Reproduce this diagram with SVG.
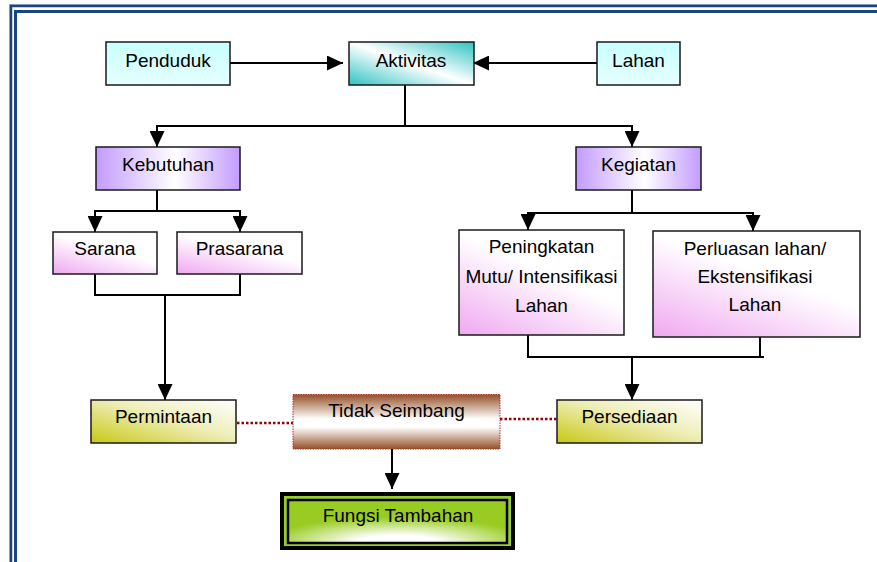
<svg xmlns="http://www.w3.org/2000/svg" width="877" height="562" viewBox="0 0 877 562">
<defs>
<style>
text{font-family:"Liberation Sans",Arial,sans-serif;font-size:19px;fill:#000;text-anchor:middle}
.box{stroke:#1a1a1a;stroke-width:1.5}
.ln{fill:none;stroke:#000;stroke-width:2}
.dot{fill:none;stroke:#990000;stroke-width:2.5;stroke-dasharray:2.5 2}
</style>
<linearGradient id="gCyan" x1="0" y1="0" x2="0" y2="1"><stop offset="0" stop-color="#c8ffff"/><stop offset="1" stop-color="#e6ffff"/></linearGradient>
<linearGradient id="gTeal" x1="0" y1="1" x2="1" y2="0"><stop offset="0" stop-color="#2fc2c2"/><stop offset="0.5" stop-color="#ffffff"/><stop offset="1" stop-color="#2fc2c2"/></linearGradient>
<linearGradient id="gPurple" x1="0" y1="0" x2="1" y2="0"><stop offset="0" stop-color="#c39bff"/><stop offset="0.55" stop-color="#ffffff"/><stop offset="1" stop-color="#c39bff"/></linearGradient>
<linearGradient id="gPink" x1="0" y1="1" x2="0.7" y2="0"><stop offset="0" stop-color="#f0a8f0"/><stop offset="0.65" stop-color="#ffffff"/><stop offset="1" stop-color="#ffffff"/></linearGradient>
<linearGradient id="gYellow" x1="0" y1="1" x2="1" y2="0"><stop offset="0" stop-color="#c8c814"/><stop offset="0.55" stop-color="#eeeeb8"/><stop offset="1" stop-color="#ffffff"/></linearGradient>
<linearGradient id="gBrown" x1="0" y1="0" x2="0" y2="1"><stop offset="0" stop-color="#935028"/><stop offset="0.45" stop-color="#ffffff"/><stop offset="0.6" stop-color="#ffffff"/><stop offset="1" stop-color="#935028"/></linearGradient>
<radialGradient id="gGreen" cx="0.5" cy="1" r="0.6"><stop offset="0" stop-color="#ffffff"/><stop offset="0.3" stop-color="#ffffff"/><stop offset="1" stop-color="#99cc22"/></radialGradient>
<marker id="arr" markerWidth="16" markerHeight="15" refX="16" refY="7.5" orient="auto" markerUnits="userSpaceOnUse"><path d="M0,0 L16,7.5 L0,15 Z" fill="#000"/></marker>
</defs>

<g id="frame" fill="none">
<rect x="9.5" y="4.5" width="900" height="600" stroke="#9fb8da" stroke-width="1"/>
<rect x="11" y="6" width="900" height="600" stroke="#1b4677" stroke-width="2.5"/>
<rect x="15.5" y="11.5" width="900" height="600" stroke="#1b4677" stroke-width="3"/>
</g>

<g id="connectors">
<line class="ln" x1="230" y1="63" x2="343" y2="63" marker-end="url(#arr)"/>
<line class="ln" x1="597" y1="63" x2="473" y2="63" marker-end="url(#arr)"/>
<polyline class="ln" points="405,85 405,126"/>
<line class="ln" x1="156" y1="126" x2="633" y2="126"/>
<line class="ln" x1="157" y1="125" x2="157" y2="147" marker-end="url(#arr)"/>
<line class="ln" x1="632" y1="125" x2="632" y2="147" marker-end="url(#arr)"/>
<polyline class="ln" points="157,190 157,211"/>
<line class="ln" x1="94" y1="211" x2="241" y2="211"/>
<line class="ln" x1="95" y1="210" x2="95" y2="232" marker-end="url(#arr)"/>
<line class="ln" x1="240" y1="210" x2="240" y2="232" marker-end="url(#arr)"/>
<polyline class="ln" points="95,274 95,295 240,295 240,274"/>
<line class="ln" x1="165" y1="295" x2="165" y2="400" marker-end="url(#arr)"/>
<polyline class="ln" points="632,190 632,213"/>
<line class="ln" x1="527" y1="213" x2="754" y2="213"/>
<line class="ln" x1="528" y1="212" x2="528" y2="230" marker-end="url(#arr)"/>
<line class="ln" x1="753" y1="212" x2="753" y2="231" marker-end="url(#arr)"/>
<polyline class="ln" points="528,335 528,357 764,357"/>
<line class="ln" x1="760" y1="337" x2="760" y2="357"/>
<line class="ln" x1="632" y1="357" x2="632" y2="400" marker-end="url(#arr)"/>
<line class="ln" x1="392" y1="449" x2="392" y2="489" marker-end="url(#arr)"/>
<line class="dot" x1="237" y1="423" x2="293" y2="423"/>
<line class="dot" x1="500" y1="419" x2="557" y2="419"/>
</g>

<g id="penduduk"><rect class="box" x="106" y="42" width="124" height="43" fill="url(#gCyan)"/><text x="168" y="67">Penduduk</text></g>
<g id="aktivitas"><rect class="box" x="349" y="42" width="125" height="43" fill="url(#gTeal)"/><text x="411" y="67">Aktivitas</text></g>
<g id="lahan"><rect class="box" x="597" y="42" width="83" height="43" fill="url(#gCyan)"/><text x="638.5" y="67">Lahan</text></g>
<g id="kebutuhan"><rect class="box" x="96" y="147" width="144" height="43" fill="url(#gPurple)"/><text x="168" y="171">Kebutuhan</text></g>
<g id="kegiatan"><rect class="box" x="576" y="147" width="125" height="43" fill="url(#gPurple)"/><text x="638.5" y="171">Kegiatan</text></g>
<g id="sarana"><rect class="box" x="53" y="232" width="104" height="42" fill="url(#gPink)"/><text x="105" y="255">Sarana</text></g>
<g id="prasarana"><rect class="box" x="177" y="232" width="125" height="42" fill="url(#gPink)"/><text x="239.5" y="255">Prasarana</text></g>
<g id="peningkatan"><rect class="box" x="459" y="230" width="165" height="105" fill="url(#gPink)"/><text x="541.5" y="253">Peningkatan</text><text x="541.5" y="283">Mutu/ Intensifikasi</text><text x="541.5" y="312">Lahan</text></g>
<g id="perluasan"><rect class="box" x="653" y="231" width="207" height="106" fill="url(#gPink)"/><text x="755" y="255">Perluasan lahan/</text><text x="755" y="283">Ekstensifikasi</text><text x="755" y="311">Lahan</text></g>
<g id="permintaan"><rect class="box" x="91" y="400" width="145" height="43" fill="url(#gYellow)"/><text x="163.5" y="423">Permintaan</text></g>
<g id="persediaan"><rect class="box" x="557" y="400" width="145" height="43" fill="url(#gYellow)"/><text x="629.5" y="423">Persediaan</text></g>
<g id="tidak-seimbang"><rect x="293" y="394.5" width="207" height="54.5" fill="url(#gBrown)" stroke="#b03030" stroke-width="1" stroke-dasharray="1.5 1"/><text x="396.5" y="417">Tidak Seimbang</text></g>
<g id="fungsi-tambahan"><rect x="282" y="494" width="231" height="54" fill="#99cc33" stroke="#000" stroke-width="4"/><rect x="288" y="500" width="219" height="43" fill="url(#gGreen)" stroke="#000" stroke-width="2.5"/><text x="398" y="522">Fungsi Tambahan</text></g>
</svg>
